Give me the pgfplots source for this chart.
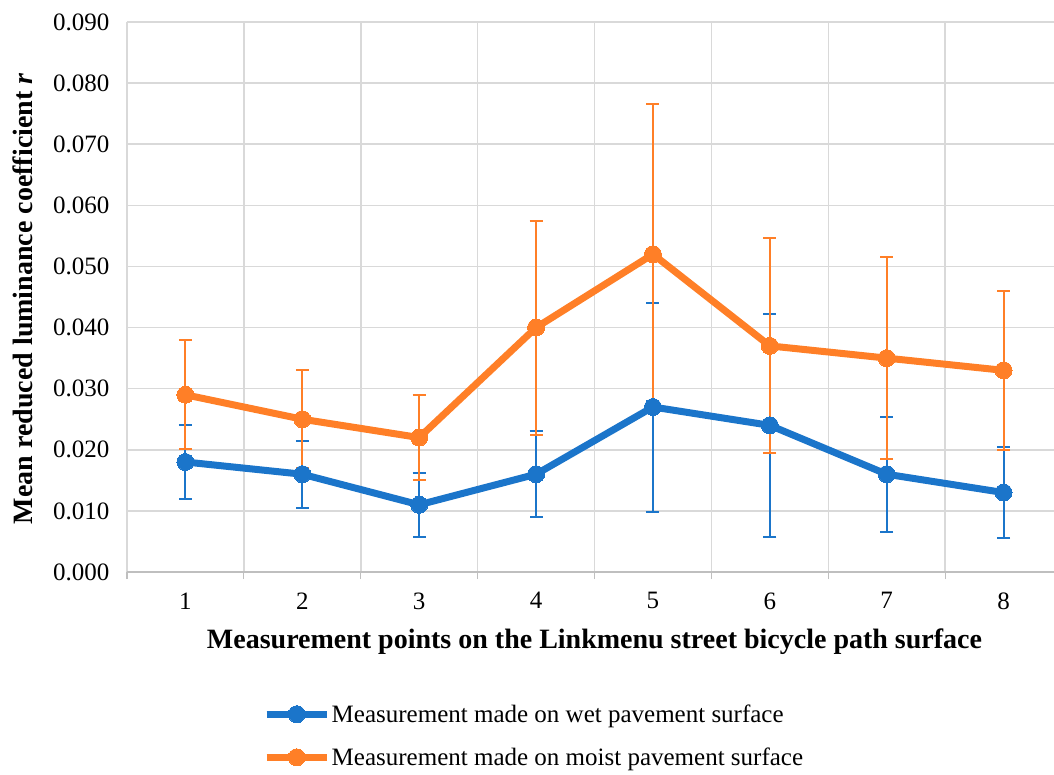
\documentclass[border=0pt]{standalone}
\usepackage{pgfplots}
\pgfplotsset{compat=1.18}
\usepackage{fontspec}
\setmainfont{Liberation Serif}
\definecolor{wetblue}{RGB}{27,117,202}
\definecolor{moistorange}{RGB}{255,127,39}
\definecolor{gridgray}{RGB}{217,217,217}
\definecolor{axisgray}{RGB}{191,191,191}
\begin{document}
\begin{tikzpicture}
\path[use as bounding box] (-127pt,-202pt) rectangle (927pt,572pt);
\begin{axis}[
  scale only axis,
  width=935pt, height=550pt,
  xmin=0.5, xmax=8.5,
  ymin=0, ymax=0.09,
  xtick={1,2,3,4,5,6,7,8},
  minor xtick={0.5,1.5,2.5,3.5,4.5,5.5,6.5,7.5,8.5},
  ytick={0,0.01,0.02,0.03,0.04,0.05,0.06,0.07,0.08,0.09},
  scaled y ticks=false,
  /pgf/number format/assume math mode=true,
  yticklabel style={/pgf/number format/fixed, /pgf/number format/fixed zerofill, /pgf/number format/precision=3, xshift=-14pt},
  xticklabel style={yshift=-17pt},
  tick label style={font=\fontsize{25}{29}\selectfont},
  major tick length=0pt,
  minor tick length=7pt,
  tick pos=bottom,
  tick align=outside,
  minor tick style={draw=axisgray, line width=1.2pt},
  xminorgrids=true, ymajorgrids=true,
  minor grid style={draw=gridgray, line width=1.5pt},
  major grid style={draw=gridgray, line width=1.5pt},
  axis x line*=bottom,
  x axis line style={draw=axisgray, line width=1.5pt, -},
  axis y line*=left,
  y axis line style={draw=none},
  ylabel={\textbf{Mean reduced luminance coefficient \textit{r}}},
  xlabel={\textbf{Measurement points on the Linkmenu street bicycle path surface}},
  label style={font=\fontsize{28}{32}\selectfont},
  ylabel style={at={(rel axis cs:-0.1112,0.497)}, anchor=center},
  xlabel style={at={(rel axis cs:0.5,-0.127)}, anchor=center},
  legend style={at={(rel axis cs:0.1455,-0.238)}, anchor=north west, draw=none, fill=none,
    font=\fontsize{25}{29}\selectfont, row sep=21pt, inner sep=0pt, nodes={inner sep=1.5pt}},
  legend cell align=left,
  legend image code/.code={\draw[mark repeat=2,mark phase=2,#1] plot coordinates {(0pt,0pt) (30pt,0pt) (60pt,0pt)};},
  clip=false,
]
\addplot[color=wetblue, line width=7pt, mark=*, mark size=8.5pt, mark options={solid, line width=0pt, fill=wetblue},
  error bars/.cd, y dir=both, y explicit,
  error bar style={line width=2pt, color=wetblue},
  error mark options={line width=2pt, mark size=6.5pt, color=wetblue, rotate=90}]
coordinates {
 (1,0.018) +- (0,0.0060)
 (2,0.016) +- (0,0.0055)
 (3,0.011) +- (0,0.0052)
 (4,0.016) +- (0,0.0070)
 (5,0.027) +- (0,0.0171)
 (6,0.024) +- (0,0.0182)
 (7,0.016) +- (0,0.0094)
 (8,0.013) +- (0,0.0074)
};
\addlegendentry{Measurement made on wet pavement surface}
\addplot[color=moistorange, line width=7pt, mark=*, mark size=8.5pt, mark options={solid, line width=0pt, fill=moistorange},
  error bars/.cd, y dir=both, y explicit,
  error bar style={line width=2pt, color=moistorange},
  error mark options={line width=2pt, mark size=6.5pt, color=moistorange, rotate=90}]
coordinates {
 (1,0.029) +- (0,0.0089)
 (2,0.025) +- (0,0.0080)
 (3,0.022) +- (0,0.0070)
 (4,0.040) +- (0,0.0175)
 (5,0.052) +- (0,0.0246)
 (6,0.037) +- (0,0.0176)
 (7,0.035) +- (0,0.0165)
 (8,0.033) +- (0,0.0130)
};
\addlegendentry{Measurement made on moist pavement surface}
\end{axis}
\end{tikzpicture}
\end{document}
